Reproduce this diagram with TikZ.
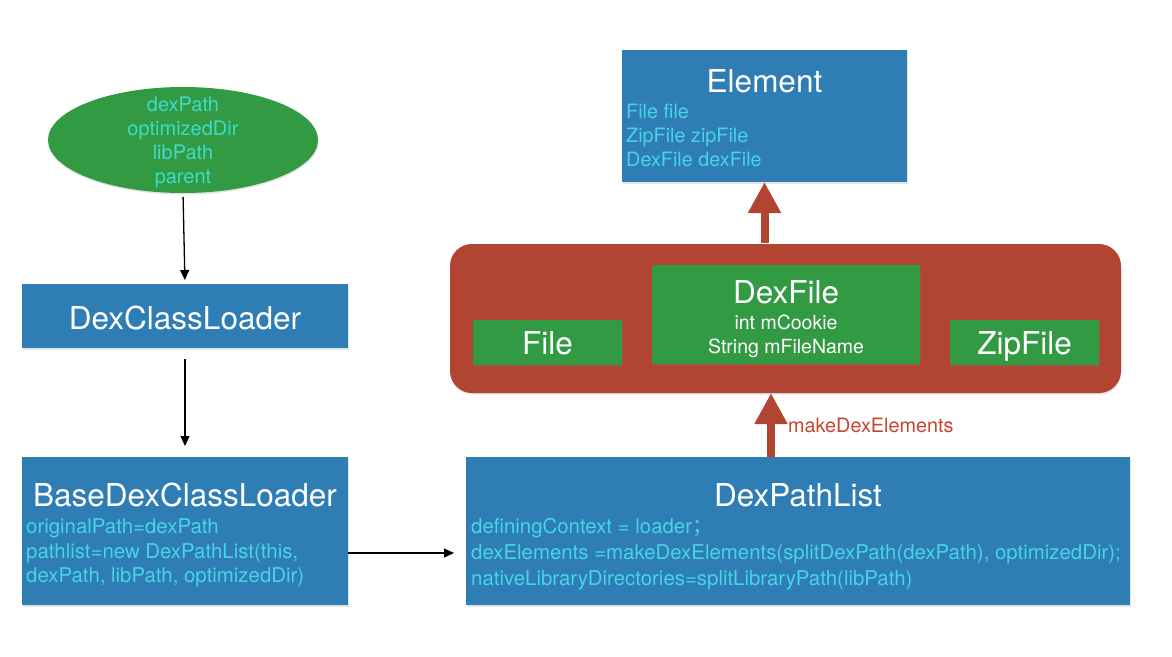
\documentclass[tikz,border=0pt]{standalone}
\usepackage{fontspec}
\setmainfont{TeX Gyre Heros}
\newfontfamily\cjkpunct{Noto Sans CJK SC}
\usetikzlibrary{arrows.meta,shadows,shapes.geometric}
\definecolor{boxblue}{HTML}{2E7DB4}
\definecolor{boxgreen}{HTML}{319A43}
\definecolor{boxred}{HTML}{B24432}
\definecolor{fieldcyan}{HTML}{48D3E6}
\definecolor{paramcyan}{HTML}{3EDCC8}
\definecolor{labelred}{HTML}{C8462F}
\begin{document}
\begin{tikzpicture}[x=1pt,y=-1pt,
  panel/.style={draw=none, inner sep=0, outer sep=0,
    drop shadow={opacity=0.22, shadow xshift=0.5pt, shadow yshift=-1.5pt}},
  bluebox/.style={panel, fill=boxblue},
  greenbox/.style={panel, fill=boxgreen},
  title/.style={font=\fontsize{31.5}{36}\selectfont, text=white, inner sep=0, anchor=base},
  sub/.style={font=\fontsize{19.5}{24}\selectfont, text=white, inner sep=0, anchor=base},
  field/.style={font=\fontsize{19.8}{24}\selectfont, text=fieldcyan, inner sep=0, anchor=base west},
  widefield/.style={field, font=\fontsize{20.4}{24}\selectfont},
  param/.style={font=\fontsize{20}{24}\selectfont, text=paramcyan, inner sep=0, anchor=base},
  flow/.style={draw=black, line width=1.3pt, -{Triangle[length=10pt,width=9pt]}},
  lift/.style={draw=boxred, line width=8pt, -{Triangle[length=31pt,width=31pt]}}]

\useasboundingbox[fill=white] (0,0) rectangle (1172,656);

% constructor arguments
\node[greenbox, ellipse, minimum width=270, minimum height=106] (args) at (183,140) {};
\node[param] (a1) at (183,111) {dexPath};
\node[param] (a2) at (183,135) {optimizedDir};
\node[param] (a3) at (183,159) {libPath};
\node[param] (a4) at (183,183) {parent};

% loader chain
\node[bluebox, minimum width=326, minimum height=64] (dcl) at (185,316) {};
\node[title] (dclt) at (185,329) {DexClassLoader};

\node[bluebox, minimum width=326, minimum height=148] (bdcl) at (185,531) {};
\node[title] (bdclt) at (185,506) {BaseDexClassLoader};
\node[widefield] (b1) at (26,533) {originalPath=dexPath};
\node[widefield] (b2) at (26,558) {pathlist=new DexPathList(this,};
\node[widefield] (b3) at (26,582) {dexPath, libPath, optimizedDir)};

\node[bluebox, minimum width=664, minimum height=148] (dpl) at (798,531) {};
\node[title] (dplt) at (798,506) {DexPathList};
\node[widefield] (d1) at (471,533) {definingContext = loader{\cjkpunct ；}};
\node[widefield] (d2) at (471,559) {dexElements =makeDexElements(splitDexPath(dexPath), optimizedDir);};
\node[widefield] (d3) at (471,585) {nativeLibraryDirectories=splitLibraryPath(libPath)};

% dex elements container
\node[panel, fill=boxred, rounded corners=22, minimum width=671, minimum height=149] (elems) at (785.5,318.5) {};
\node[greenbox, minimum width=149, minimum height=45] (file) at (547.5,342.5) {};
\node[title] (filet) at (547.5,354) {File};
\node[greenbox, minimum width=268, minimum height=99] (dexfile) at (786,314.5) {};
\node[title] (dexfilet) at (786,303) {DexFile};
\node[sub] (df1) at (786,329) {int mCookie};
\node[sub] (df2) at (786,353) {String mFileName};
\node[greenbox, minimum width=149, minimum height=45] (zip) at (1024.5,342.5) {};
\node[title] (zipt) at (1024.5,354) {ZipFile};

% element
\node[bluebox, minimum width=285, minimum height=132] (elem) at (764.5,116) {};
\node[title] (elemt) at (764.5,92) {Element};
\node[field] (e1) at (626,118) {File file};
\node[field] (e2) at (626,142) {ZipFile zipFile};
\node[field] (e3) at (626,166) {DexFile dexFile};

% connectors
\draw[flow, shorten <=4pt, shorten >=4pt] (args.south) -- (dcl.north);
\draw[flow, shorten <=11pt, shorten >=11pt] (dcl.south) -- (bdcl.north);
\coordinate (callrow) at (0,553);
\draw[flow, shorten >=12pt] (bdcl.east |- callrow) -- (dpl.west |- callrow);

\coordinate (mkx) at (771,0);
\draw[lift] (mkx |- dpl.north) -- (mkx |- elems.south);
\node[font=\fontsize{19.8}{24}\selectfont, text=labelred, inner sep=0, anchor=base west] (mklabel) at (788,432) {makeDexElements};

\draw[lift, shorten <=1pt] (elem.south |- elems.north) -- (elem.south);
\end{tikzpicture}
\end{document}
